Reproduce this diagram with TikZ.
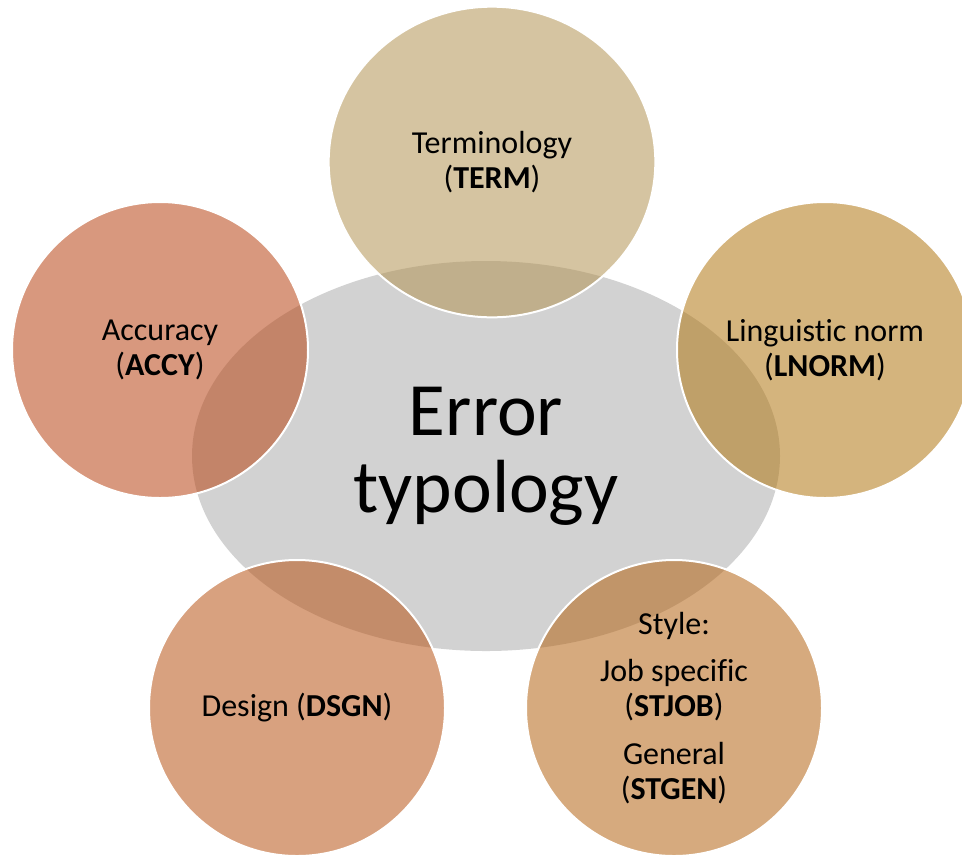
\documentclass[tikz,border=0pt]{standalone}
\usepackage{fontspec}
\setmainfont{Carlito}[Ligatures=NoCommon]
\usetikzlibrary{shapes.geometric}

\definecolor{coregray}{RGB}{210,210,210}
\definecolor{termcol}{RGB}{179,148,84}
\definecolor{accycol}{RGB}{184,68,20}
\definecolor{lnormcol}{RGB}{177,119,19}
\definecolor{dsgncol}{RGB}{184,84,22}
\definecolor{stylecol}{RGB}{180,100,20}

\tikzset{
    bubble/.style={circle, draw=white, line width=1.5pt, fill opacity=0.55, text opacity=1,
        minimum size=222pt, inner sep=0pt, align=center, font=\fontsize{24}{26.5}\selectfont},
}

\begin{document}
\begin{tikzpicture}[x=0.75pt, y=-0.75pt]
    %\draw[lightgray] (0, 0) grid[step=100] (962, 854);
    \useasboundingbox (0, 0) rectangle (962, 854);
    \node[ellipse, fill=coregray, minimum width=441pt, minimum height=292.5pt, inner sep=0pt,
        align=center, font=\fontsize{56.5}{58}\selectfont] (core) at (486, 456) {Error\\typology};
    \node[bubble, ellipse, fill=termcol, minimum width=245pt, minimum height=233pt] (term) at (492, 162) {Terminology\\(\textbf{TERM})};
    \node[bubble, fill=accycol] (accy) at (160, 350) {Accuracy\\(\textbf{ACCY})};
    \node[bubble, fill=lnormcol] (lnorm) at (825, 350) {Linguistic norm\\(\textbf{LNORM})};
    \node[bubble, fill=dsgncol] (dsgn) at (297, 708) {Design (\textbf{DSGN})};
    \node[bubble, fill=stylecol] (style) at (674, 708) {Style:\\[9pt]Job specific\\(\textbf{STJOB})\\[9pt]General\\(\textbf{STGEN})};
\end{tikzpicture}
\end{document}
